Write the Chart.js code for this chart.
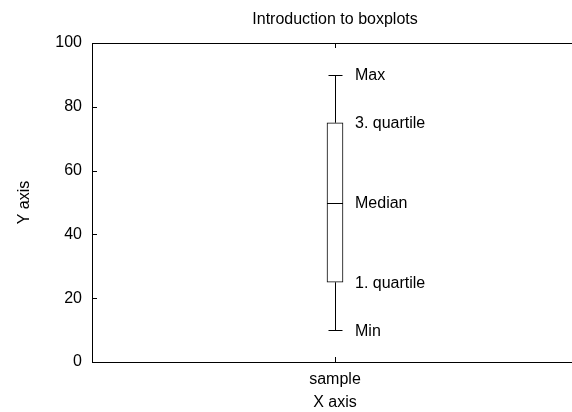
<!DOCTYPE html>
<html>
<head>
<meta charset="utf-8">
<script src="https://cdn.jsdelivr.net/npm/chart.js@4"></script>
<style>
html,body{margin:0;padding:0;background:#fff;overflow:hidden;}
#wrap{width:578px;height:412px;}
</style>
</head>
<body>
<div id="wrap"><canvas id="c" width="578" height="412"></canvas></div>
<script>
const categories = ['sample'];
const minVals = [10];
const q1Vals = [25];
const medianVals = [50];
const q3Vals = [75];
const maxVals = [90];
const statLabels = ['Min', '1. quartile', 'Median', '3. quartile', 'Max'];
const yTicks = [0, 20, 40, 60, 80, 100];

const FONT = "'Liberation Sans', Arial, Helvetica, sans-serif";
const FS = 16;
Chart.defaults.font.family = FONT;
Chart.defaults.font.size = FS;
Chart.defaults.color = '#000';

const boxPlugin = {
  id: 'boxExtras',
  afterDatasetsDraw(chart) {
    const ctx = chart.ctx;
    const y = chart.scales.y;
    const x = chart.scales.x;
    const area = chart.chartArea;
    const meta = chart.getDatasetMeta(0);
    ctx.save();
    ctx.strokeStyle = '#000';
    ctx.lineWidth = 1;
    // frame: top border
    ctx.beginPath();
    ctx.moveTo(area.left, Math.round(area.top) + 0.5);
    ctx.lineTo(area.right, Math.round(area.top) + 0.5);
    ctx.stroke();
    // inward ticks on y axis
    y.ticks.forEach(t => {
      const py = Math.round(y.getPixelForValue(t.value)) + 0.5;
      ctx.beginPath();
      ctx.moveTo(area.left, py);
      ctx.lineTo(area.left + 5, py);
      ctx.stroke();
    });
    // inward ticks on x axis (bottom and top mirror)
    categories.forEach((c, i) => {
      const px = Math.round(x.getPixelForValue(i)) + 0.5;
      ctx.beginPath();
      ctx.moveTo(px, area.bottom);
      ctx.lineTo(px, area.bottom - 5);
      ctx.moveTo(px, area.top);
      ctx.lineTo(px, area.top + 5);
      ctx.stroke();
    });
    meta.data.forEach((el, i) => {
      const cx = Math.round(el.x) + 0.5;
      const half = el.width / 2;
      const capHalf = half - 1;
      const pMin = Math.round(y.getPixelForValue(minVals[i])) + 0.5;
      const pQ1 = y.getPixelForValue(q1Vals[i]);
      const pMed = Math.round(y.getPixelForValue(medianVals[i])) + 0.5;
      const pQ3 = y.getPixelForValue(q3Vals[i]);
      const pMax = Math.round(y.getPixelForValue(maxVals[i])) + 0.5;
      ctx.beginPath();
      ctx.moveTo(cx, pMax); ctx.lineTo(cx, pQ3);
      ctx.moveTo(cx, pQ1); ctx.lineTo(cx, pMin);
      ctx.moveTo(cx - capHalf, pMax); ctx.lineTo(cx + capHalf, pMax);
      ctx.moveTo(cx - capHalf, pMin); ctx.lineTo(cx + capHalf, pMin);
      ctx.moveTo(el.x - half, pMed); ctx.lineTo(el.x + half, pMed);
      ctx.stroke();
      ctx.fillStyle = '#000';
      ctx.font = FS + 'px ' + FONT;
      ctx.textAlign = 'left';
      ctx.textBaseline = 'middle';
      const vals = [minVals[i], q1Vals[i], medianVals[i], q3Vals[i], maxVals[i]];
      vals.forEach((v, k) => {
        ctx.fillText(statLabels[k], el.x + 20, y.getPixelForValue(v) + 1);
      });
    });
    ctx.restore();
  }
};

new Chart(document.getElementById('c'), {
  type: 'bar',
  data: {
    labels: categories,
    datasets: [{
      data: categories.map((c, i) => [q1Vals[i], q3Vals[i]]),
      backgroundColor: '#fff',
      borderColor: '#000',
      borderWidth: 1,
      borderSkipped: false,
      barThickness: 16
    }]
  },
  options: {
    responsive: false,
    animation: false,
    events: [],
    layout: { padding: 0 },
    plugins: {
      legend: { display: false },
      tooltip: { enabled: false },
      title: {
        display: true,
        text: 'Introduction to boxplots',
        fullSize: false,
        font: { size: FS, weight: 'normal' },
        padding: { top: 10, bottom: 13.8 }
      }
    },
    scales: {
      x: {
        type: 'category',
        offset: true,
        grid: { display: false, drawTicks: false },
        border: { display: true, color: '#000', width: 1 },
        ticks: { padding: 8, font: { size: FS } },
        title: { display: true, text: 'X axis', font: { size: FS }, padding: { top: 4, bottom: 0 } },
        afterFit(s) { s.height = 50; }
      },
      y: {
        min: 0,
        max: 100,
        afterBuildTicks(s) { s.ticks = yTicks.map(v => ({ value: v })); },
        grid: { display: false, drawTicks: false },
        border: { display: true, color: '#000', width: 1 },
        ticks: { padding: 10, font: { size: FS } },
        title: { display: true, text: 'Y axis', font: { size: FS }, padding: { top: 15, bottom: 0 } },
        afterFit(s) { s.width = 92; }
      }
    }
  },
  plugins: [boxPlugin]
});
</script>
</body>
</html>
